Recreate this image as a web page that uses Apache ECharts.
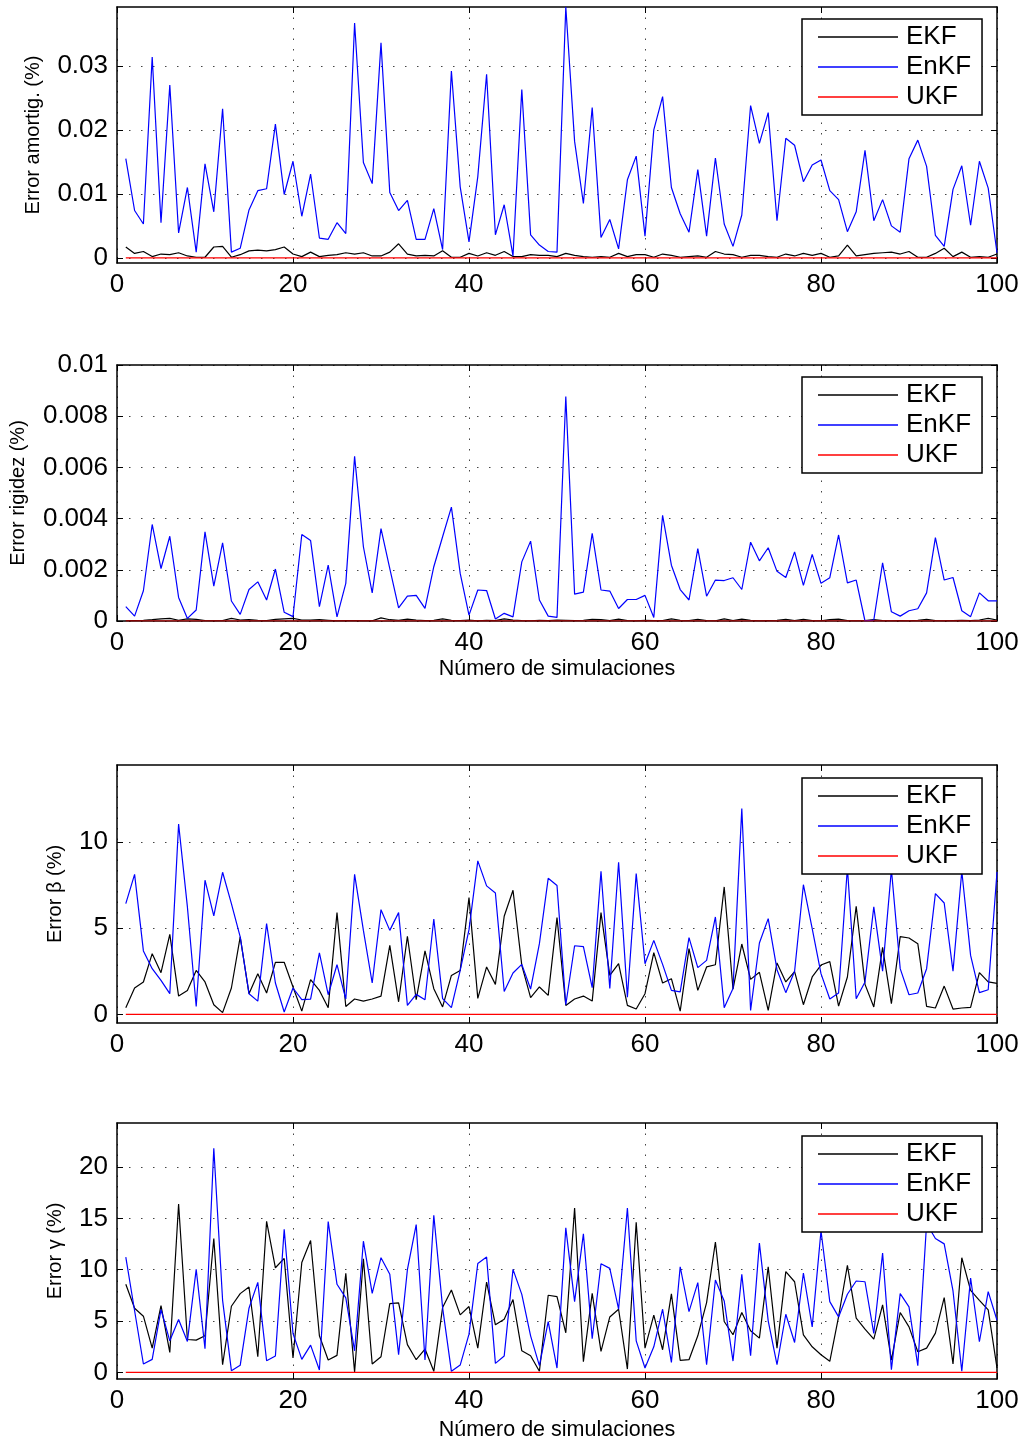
<!DOCTYPE html>
<html><head><meta charset="utf-8">
<script src="https://cdn.jsdelivr.net/npm/echarts@6/dist/echarts.min.js"></script>
<style>html,body{margin:0;padding:0;background:#fff}#c{width:1024px;height:1442px}</style>
</head><body><div id="c"></div><script>
const simulaciones = [1,2,3,4,5,6,7,8,9,10,11,12,13,14,15,16,17,18,19,20,21,22,23,24,25,26,27,28,29,30,31,32,33,34,35,36,37,38,39,40,41,42,43,44,45,46,47,48,49,50,51,52,53,54,55,56,57,58,59,60,61,62,63,64,65,66,67,68,69,70,71,72,73,74,75,76,77,78,79,80,81,82,83,84,85,86,87,88,89,90,91,92,93,94,95,96,97,98,99,100];
const xTicks = [0,20,40,60,80,100];
const serieNames = ['EKF','EnKF','UKF'];

const amortigTicks = [0,0.01,0.02,0.03];
const rigidezTicks = [0,0.002,0.004,0.006,0.008,0.01];
const betaTicks = [0,5,10];
const gammaTicks = [0,5,10,15,20];

const amortigEnKF = [0.0155,0.0074,0.0053,0.0314,0.0055,0.0270,0.0039,0.0110,0.0009,0.0147,
0.0072,0.0233,0.0009,0.0015,0.0075,0.0105,0.0108,0.0209,0.0099,0.0151,
0.0065,0.0131,0.0031,0.0029,0.0055,0.0038,0.0367,0.0149,0.0116,0.0336,
0.0102,0.0074,0.0090,0.0029,0.0029,0.0077,0.0013,0.0292,0.0111,0.0025,
0.0127,0.0287,0.0036,0.0083,0.0003,0.0263,0.0036,0.0020,0.0010,0.0009,
0.0392,0.0182,0.0085,0.0235,0.0032,0.0060,0.0014,0.0122,0.0159,0.0034,
0.0200,0.0252,0.0110,0.0069,0.0040,0.0138,0.0034,0.0156,0.0053,0.0018,
0.0067,0.0238,0.0179,0.0227,0.0058,0.0187,0.0176,0.0119,0.0145,0.0153,
0.0105,0.0091,0.0041,0.0072,0.0168,0.0058,0.0091,0.0050,0.0040,0.0155,
0.0184,0.0143,0.0035,0.0018,0.0107,0.0144,0.0051,0.0151,0.0109,0.0008];
const amortigEKF = [0.0017,0.0007,0.0010,0.0002,0.0006,0.0005,0.0008,0.0003,0.0001,0.0001,
0.0017,0.0018,0.0001,0.0005,0.0011,0.0012,0.0011,0.0013,0.0017,0.0006,
0.0002,0.0009,0.0002,0.0004,0.0005,0.0008,0.0006,0.0008,0.0003,0.0003,
0.0009,0.0022,0.0006,0.0003,0.0004,0.0003,0.0011,0.0001,0.0001,0.0007,
0.0003,0.0008,0.0004,0.0010,0.0002,0.0002,0.0005,0.0004,0.0004,0.0002,
0.0007,0.0004,0.0002,0.0001,0.0002,0.0001,0.0007,0.0002,0.0005,0.0005,
0.0001,0.0006,0.0004,0.0001,0.0002,0.0003,0.0001,0.0010,0.0006,0.0005,
0.0001,0.0004,0.0004,0.0002,0.0001,0.0006,0.0003,0.0007,0.0004,0.0007,
0.0001,0.0003,0.0020,0.0003,0.0005,0.0007,0.0008,0.0009,0.0006,0.0010,
0.0001,0.0001,0.0007,0.0015,0.0002,0.0009,0.0001,0.0002,0.0001,0.0006];

const rigidezEnKF = [0.00056,0.00019,0.00118,0.00377,0.00205,0.00331,0.00092,0.0001,0.00043,0.00348,
0.00136,0.00305,0.00078,0.00026,0.00123,0.00153,0.00082,0.00203,0.00034,0.00017,
0.00338,0.00314,0.00056,0.00218,0.00016,0.00147,0.00643,0.0029,0.0011,0.00361,
0.00205,0.00051,0.00097,0.001,0.00049,0.00212,0.00329,0.00445,0.00186,0.00023,
0.00121,0.00119,0.00008,0.0003,0.00016,0.00231,0.00312,0.00082,0.00019,0.00014,
0.00877,0.00105,0.00113,0.00342,0.00121,0.00117,0.00049,0.00084,0.00084,0.001,
0.00014,0.00413,0.00218,0.00123,0.00082,0.00283,0.00097,0.0016,0.00158,0.00169,
0.00123,0.00308,0.00235,0.00286,0.00194,0.0017,0.0027,0.00139,0.0026,0.00147,
0.00169,0.00336,0.00149,0.0016,0,0.00004,0.00227,0.00036,0.00019,0.0004,
0.00048,0.0011,0.00326,0.0016,0.0017,0.0004,0.00017,0.0011,0.00079,0.00079];
const rigidezEKF = [0.00001,0.00002,0.00003,0.00005,0.00008,0.0001,0.00003,0.00008,0.00006,0.00002,
0.00001,0.00002,0.0001,0.00004,0.00005,0.00003,0.00002,0.00006,0.00008,0.0001,
0.00004,0.00004,0.00005,0.00003,0.00001,0.00002,0.00002,0.00001,0.00001,0.00012,
0.00005,0.00003,0.00007,0.00004,0.00002,0.00003,0.00008,0.00003,0.00002,0.00004,
0.00001,0.00003,0.00002,0.00008,0.00004,0.00002,0.00001,0.00003,0.00002,0.00004,
0.00003,0.00002,0.00003,0.00006,0.00005,0.00002,0.00007,0.00002,0.00001,0.00003,
0.00002,0.00002,0.00008,0.00003,0.00002,0.00006,0.00002,0.00001,0.00008,0.00002,
0.00007,0.00003,0.00001,0.00002,0.00003,0.00006,0.00002,0.00006,0.00002,0.00001,
0.00005,0.00007,0.00002,0.00001,0.00002,0.00005,0.00002,0.00001,0.00002,0.00001,
0.00003,0.00006,0.00002,0.00001,0.00002,0.00003,0.00002,0.00004,0.0001,0.00004];

const betaEnKF = [6.42,8.12,3.68,2.65,1.97,1.2,11.03,6.23,0.46,7.78,
5.71,8.24,6.42,4.49,1.2,0.77,5.26,1.82,0.14,1.53,
0.85,0.89,3.56,1.14,2.88,0.89,8.12,4.87,1.82,6.07,
4.87,5.9,0.52,1.16,0.85,5.53,0.91,0.39,2.55,4.91,
8.9,7.45,7.04,1.33,2.4,2.9,1.47,4.1,7.89,7.47,
0.56,3.98,3.93,1.55,8.3,1.51,8.82,1.0,8.16,2.94,
4.29,2.9,1.39,1.3,4.45,2.71,3.13,5.65,0.39,1.5,
11.93,0.23,4.14,5.55,2.59,1.26,2.5,7.52,4.97,2.36,
0.89,1.24,8.5,0.91,1.88,6.23,2.51,8.4,2.65,1.14,
1.24,2.65,7.0,6.46,2.51,8.3,3.42,1.26,1.43,8.26];
const betaEKF = [0.39,1.53,1.88,3.52,2.42,4.64,1.06,1.39,2.55,1.88,
0.56,0.1,1.53,4.49,1.2,2.36,1.24,3.02,3.02,1.59,
0.19,2.01,1.39,0.39,5.9,0.46,0.89,0.77,0.89,1.06,
4.0,0.73,4.53,0.85,3.68,1.49,0.43,2.26,2.55,6.77,
0.93,2.75,1.74,5.69,7.2,2.84,0.97,1.59,1.1,5.61,
0.52,0.89,1.06,0.77,5.9,2.26,2.94,0.52,0.31,1.2,
3.58,1.82,2.07,0.19,3.81,1.39,2.75,2.88,7.39,1.47,
4.08,2.03,2.44,0.23,2.98,1.88,2.48,0.56,2.17,2.86,
3.06,0.48,2.17,6.27,1.74,0.43,3.89,0.62,4.51,4.43,
4.1,0.46,0.37,1.64,0.31,0.37,0.41,2.42,1.88,1.8];

const gammaEnKF = [11.23,6.0,0.81,1.26,6.12,3.07,5.15,3.01,10.03,2.3,
21.84,7.02,0.16,0.68,6.25,8.77,1.13,1.59,13.95,3.79,
1.26,2.65,0.23,14.69,8.58,7.25,2.1,12.78,7.7,11.17,
9.55,1.72,10.0,14.4,1.2,15.31,6.31,0.1,0.71,3.72,
10.61,11.23,0.87,1.59,10.03,7.6,3.56,0.65,4.95,0.42,
14.08,6.89,13.5,3.27,10.58,10.13,6.15,16.02,3.07,0.42,
2.49,6.15,0.97,10.29,5.92,8.74,0.74,9.0,6.96,1.1,
9.55,1.62,12.59,5.02,0.74,5.66,2.91,9.68,4.43,13.8,
6.89,5.4,7.61,8.9,8.83,3.79,11.62,0.26,7.67,6.38,
0.65,14.5,13.04,12.52,7.93,0.1,9.19,2.98,7.86,5.08];
const gammaEKF = [8.58,6.25,5.47,2.36,6.5,1.94,16.41,3.2,3.14,3.56,
13.04,0.74,6.44,7.67,8.32,1.52,14.72,10.19,11.1,1.39,
10.71,12.85,3.56,1.2,1.65,9.64,0.03,11.07,0.81,1.52,
6.7,6.76,2.7,1.23,2.27,0.1,6.31,8.03,5.6,6.41,
2.36,8.8,4.63,5.18,7.09,2.1,1.62,0.1,7.51,7.38,
3.85,16.02,1.04,7.7,2.04,5.4,6.15,0.32,14.63,2.36,
5.57,2.2,7.64,1.17,1.23,3.56,6.8,12.7,4.95,3.66,
5.83,4.05,3.33,10.29,2.36,9.81,8.83,3.66,2.49,1.72,
1.07,5.44,10.42,5.28,4.21,3.24,6.57,1.2,5.83,4.43,
2.01,2.36,3.82,7.28,0.81,11.17,7.99,7.02,6.08,0.42];

const ukfError = [0,0,0,0,0,0,0,0,0,0,0,0,0,0,0,0,0,0,0,0,0,0,0,0,0,0,0,0,0,0,0,0,0,0,0,0,0,0,0,0,0,0,0,0,0,0,0,0,0,0,
0,0,0,0,0,0,0,0,0,0,0,0,0,0,0,0,0,0,0,0,0,0,0,0,0,0,0,0,0,0,0,0,0,0,0,0,0,0,0,0,0,0,0,0,0,0,0,0,0,0];

const FONT = "'Liberation Sans', Arial, Helvetica, sans-serif";
const COLORS = ['#000000', '#0000ff', '#ff0000'];

const panels = [
  {top:7, height:256, min:-0.0008, max:0.0392, ticks:amortigTicks, yName:'Error amortig. (%)', yGap:74, xName:'', xGap:0, legendTop:19, data:[amortigEKF, amortigEnKF, ukfError]},
  {top:365, height:256, min:0, max:0.01, ticks:rigidezTicks, yName:'Error rigidez (%)', yGap:89, xName:'Número de simulaciones', xGap:37, legendTop:377, data:[rigidezEKF, rigidezEnKF, ukfError]},
  {top:765, height:258, min:-0.5, max:14.46, ticks:betaTicks, yName:'Error β (%)', yGap:52, xName:'', xGap:0, legendTop:778, data:[betaEKF, betaEnKF, ukfError]},
  {top:1123, height:257, min:-0.65, max:24.3, ticks:gammaTicks, yName:'Error γ (%)', yGap:52, xName:'Número de simulaciones', xGap:40, legendTop:1136, data:[gammaEKF, gammaEnKF, ukfError]}
];

const grid = [], xAxis = [], yAxis = [], series = [], legend = [];
const axisLine = {onZero:false, lineStyle:{color:'#000', width:1.5}};
const tickStyle = {inside:true, length:6, lineStyle:{color:'#000', width:1}};
const labelStyle = {color:'#000', fontSize:26, fontFamily:FONT};
const nameStyle = {color:'#000', fontSize:20, fontFamily:FONT};
const xNameStyle = {color:'#000', fontSize:21.5, fontFamily:FONT};

panels.forEach((p, g) => {
  grid.push({left:117, width:880, top:p.top, height:p.height, containLabel:false});
  xAxis.push({type:'value', gridIndex:g, min:xTicks[0], max:xTicks[xTicks.length-1], interval:20, position:'bottom',
    axisLine, axisTick:tickStyle, axisLabel:Object.assign({margin:9}, labelStyle),
    splitLine:{show:true, lineStyle:{color:'#444', width:1, type:[1.5, 9]}},
    name:p.xName, nameLocation:'middle', nameGap:p.xGap, nameTextStyle:xNameStyle});
  xAxis.push({type:'value', gridIndex:g, min:0, max:100, interval:20, position:'top',
    axisLine, axisTick:tickStyle, axisLabel:{show:false}, splitLine:{show:false}});
  yAxis.push({type:'value', gridIndex:g, min:p.min, max:p.max, position:'left',
    axisLine, axisTick:Object.assign({customValues:p.ticks}, tickStyle),
    axisLabel:Object.assign({customValues:p.ticks, margin:9}, labelStyle),
    splitLine:{show:true, lineStyle:{color:'#444', width:1, type:[1.5, 10.5]}},
    name:p.yName, nameLocation:'middle', nameGap:p.yGap, nameTextStyle:nameStyle});
  yAxis.push({type:'value', gridIndex:g, min:p.min, max:p.max, position:'right',
    axisLine, axisTick:Object.assign({customValues:p.ticks}, tickStyle),
    axisLabel:{show:false}, splitLine:{show:false}});
  serieNames.forEach((n, k) => {
    series.push({type:'line', name:n, xAxisIndex:2*g, yAxisIndex:2*g,
      data:simulaciones.map((x, i) => [x, p.data[k][i]]),
      showSymbol:false, symbol:'none', color:COLORS[k],
      lineStyle:{color:COLORS[k], width:1.2}, z:2+k, silent:true});
  });
  legend.push({left:802, top:p.legendTop, orient:'vertical', data:serieNames, icon:'rect',
    itemWidth:80, itemHeight:1.5, itemGap:4, padding:[5,11,5,16],
    borderColor:'#000', borderWidth:1.5, backgroundColor:'#fff', borderRadius:0,
    textStyle:{color:'#000', fontSize:26, fontFamily:FONT, padding:[0,0,0,3]}, selectedMode:false, z:10});
});

const chart = echarts.init(document.getElementById('c'), null, {renderer:'canvas'});
chart.setOption({animation:false, backgroundColor:'#fff', grid, xAxis, yAxis, series, legend});
</script></body></html>
